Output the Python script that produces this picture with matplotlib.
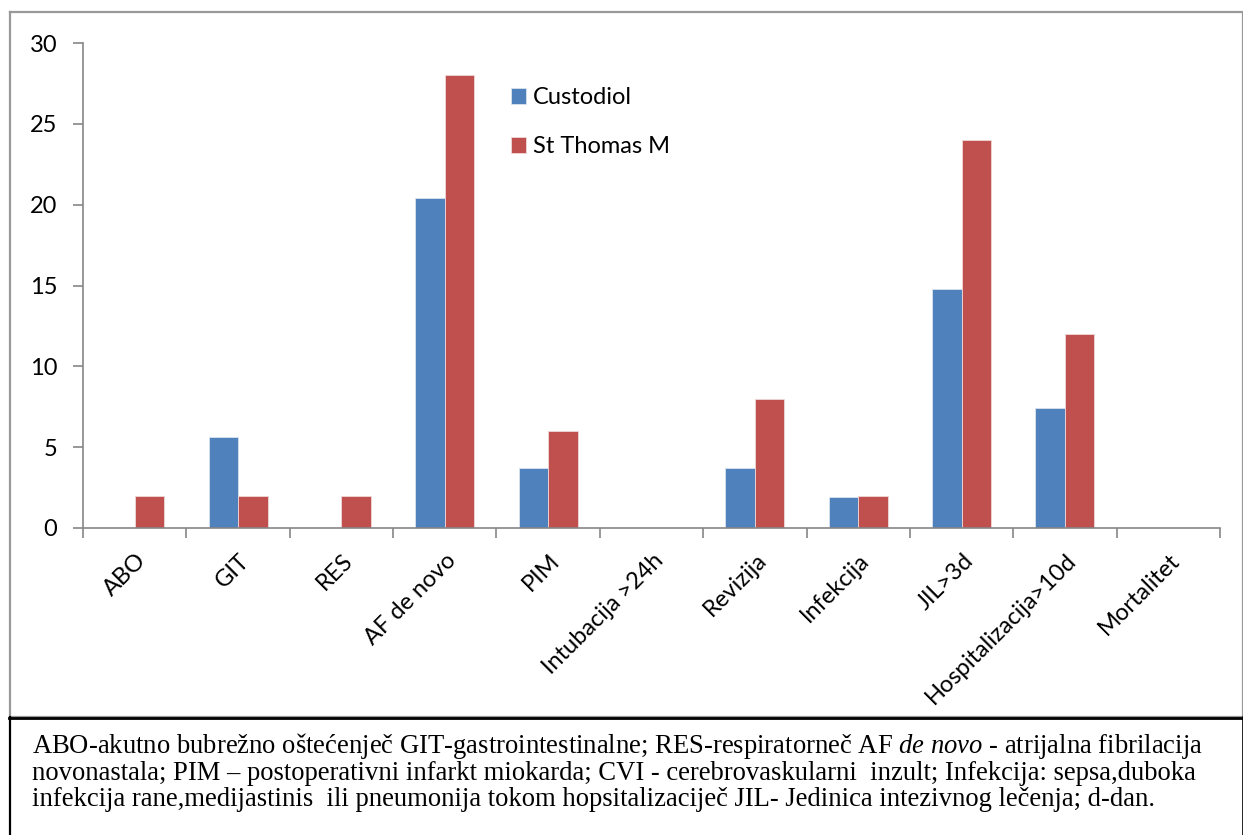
import matplotlib
matplotlib.use("Agg")
import matplotlib.pyplot as plt
import numpy as np
from matplotlib.lines import Line2D
from matplotlib.transforms import ScaledTranslation

categories = ["ABO", "GIT", "RES", "AF de novo", "PIM", "Intubacija >24h",
              "Revizija", "Infekcija", "JIL>3d", "Hospitalizacija>10d", "Mortalitet"]
custodiol = [0, 5.6, 0, 20.4, 3.7, 0, 3.7, 1.9, 14.8, 7.4, 0]
st_thomas = [2, 2, 2, 28, 6, 0, 8, 2, 24, 12, 0]
series_names = ["Custodiol", "St Thomas M"]
y_ticks = [0, 5, 10, 15, 20, 25, 30]

caption = [
    r"ABO-akutno bubrežno oštećenječ GIT-gastrointestinalne; RES-respiratorneč AF $\mathit{de\ novo}$ - atrijalna fibrilacija",
    "novonastala; PIM – postoperativni infarkt miokarda; CVI - cerebrovaskularni  inzult; Infekcija: sepsa,duboka",
    "infekcija rane,medijastinis  ili pneumonija tokom hopsitalizaciječ JIL- Jedinica intezivnog lečenja; d-dan.",
]

BLUE = "#4F81BD"
RED = "#C0504D"
GRAY = "#868686"
LABEL_FONT = "Lato"
LABEL_SIZE = 17

plt.rcParams["mathtext.fontset"] = "custom"
plt.rcParams["mathtext.rm"] = "Liberation Serif"
plt.rcParams["mathtext.it"] = "Liberation Serif:italic"

W, H = 1243, 835
fig = plt.figure(figsize=(W / 100, H / 100), dpi=100)


def fx(px):
    return px / W


def fy(py):
    return 1 - py / H


ax = fig.add_axes([fx(83), fy(528), fx(1220) - fx(83), fy(43) - fy(528)])

x = np.arange(len(categories))
bw = 1 / 3.5  # excel gap width 150%
ax.bar(x - bw / 2, custodiol, bw, color=BLUE, edgecolor="#dbe4f0", linewidth=0.6,
       label=series_names[0])
ax.bar(x + bw / 2, st_thomas, bw, color=RED, edgecolor="#f0d8d8", linewidth=0.6,
       label=series_names[1])

ax.set_xlim(-0.5, len(categories) - 0.5)
ax.set_ylim(0, 30)
ax.set_yticks(y_ticks)
ax.set_yticklabels([str(v) for v in y_ticks], fontfamily=LABEL_FONT, fontsize=LABEL_SIZE)

# category ticks sit on the boundaries, labels at the centres
ax.set_xticks(np.arange(len(categories) + 1) - 0.5)
ax.set_xticklabels([])
ax.set_xticks(x, minor=True)
ax.set_xticklabels(categories, minor=True, rotation=45, ha="right", va="center",
                   rotation_mode="anchor", fontfamily=LABEL_FONT, fontsize=LABEL_SIZE)
ax.tick_params(axis="x", which="minor", length=0, pad=21)
ax.tick_params(axis="x", which="major", length=7, color=GRAY, width=1.2)
ax.tick_params(axis="y", length=7, color=GRAY, width=1.2, pad=11.5)

shift = ScaledTranslation(0.08, 0, fig.dpi_scale_trans)
for lab in ax.get_xticklabels(minor=True):
    lab.set_transform(lab.get_transform() + shift)

for side in ["top", "right"]:
    ax.spines[side].set_visible(False)
for side in ["left", "bottom"]:
    ax.spines[side].set_color(GRAY)
    ax.spines[side].set_linewidth(1.2)

leg = ax.legend(loc="upper left", bbox_to_anchor=(fx(511), fy(87)),
                bbox_transform=fig.transFigure, frameon=False,
                prop={"family": LABEL_FONT, "size": LABEL_SIZE}, labelspacing=1.2,
                handlelength=0.64, handleheight=0.64, handletextpad=0.3,
                borderpad=0, borderaxespad=0)

# frame around the chart area and caption box
fig.add_artist(Line2D([fx(9.5), fx(1242.5), fx(1242.5), fx(9.5), fx(9.5)],
                      [fy(11.5), fy(11.5), fy(717), fy(717), fy(11.5)],
                      color="#999999", linewidth=1.6, transform=fig.transFigure))
fig.add_artist(Line2D([fx(9.5), fx(9.5)], [fy(717), 0], color="black",
                      linewidth=1.6, transform=fig.transFigure))
fig.add_artist(Line2D([fx(1242.5), fx(1242.5)], [fy(717), 0], color="black",
                      linewidth=1.2, transform=fig.transFigure))
fig.add_artist(Line2D([fx(9), fx(1243)], [fy(717.5), fy(717.5)], color="black",
                      linewidth=2, transform=fig.transFigure))

for i, line in enumerate(caption):
    fig.text(fx(32), fy(746 + 27 * i), line, family="Liberation Serif",
             fontsize=19.2, va="center", ha="left")

fig.savefig("out.png", dpi=100)
